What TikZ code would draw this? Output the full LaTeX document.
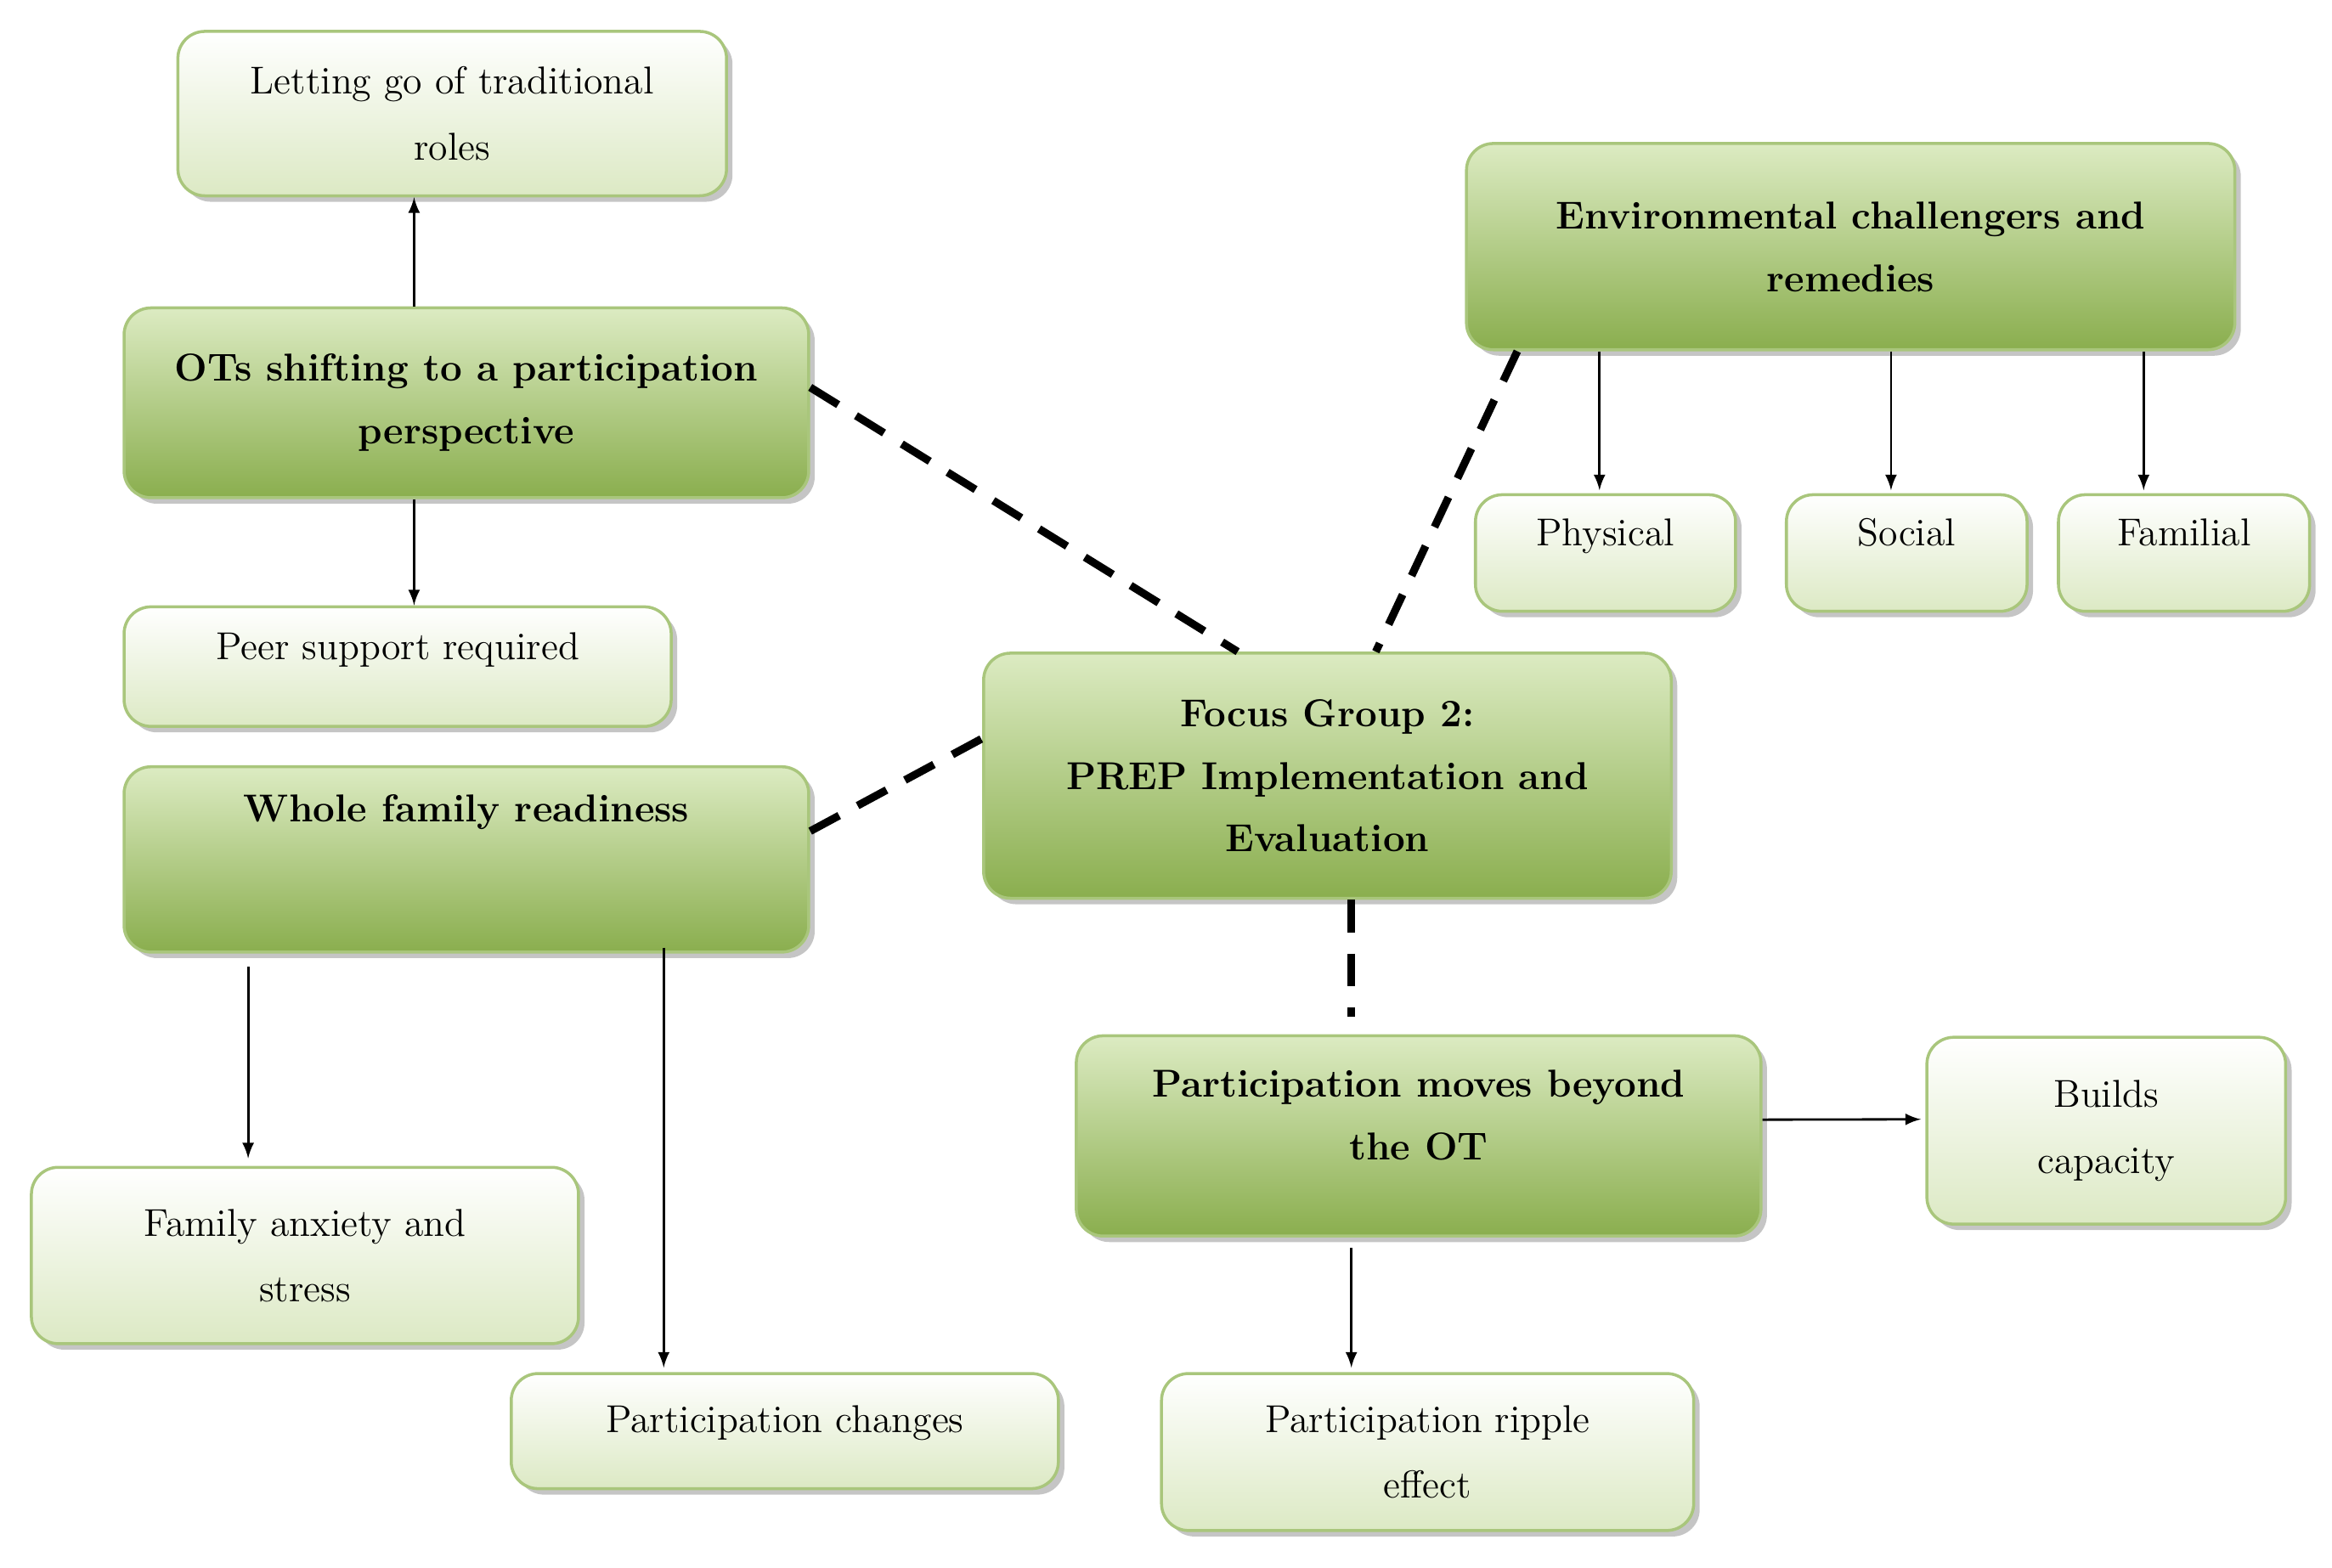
\documentclass[tikz,border=0pt]{standalone}
\usetikzlibrary{shadows,calc}
\definecolor{dtop}{HTML}{DCEBC2}
\definecolor{dbot}{HTML}{8AAE4E}
\definecolor{ltop}{HTML}{FFFFFF}
\definecolor{lbot}{HTML}{DCE9C4}
\definecolor{bord}{HTML}{A9C67C}
\begin{document}
\begin{tikzpicture}[x=0.5pt,y=-0.5pt,
  box/.style={draw=bord,line width=1pt,rounded corners=9pt,anchor=north west,inner sep=0pt,
    drop shadow={shadow xshift=2pt,shadow yshift=-2pt,fill=black!45},font=\fontsize{13}{22}\selectfont,align=center},
  dark/.style={box,top color=dtop,bottom color=dbot,font=\fontsize{13}{21}\selectfont\bfseries},
  light/.style={box,top color=ltop,bottom color=lbot},
  arr/.style={-latex,line width=0.8pt},
  dashlink/.style={line width=2.6pt,dash pattern=on 11pt off 7pt}]
\useasboundingbox (0,0) rectangle (1560,1049);
% boxes
\node[light,minimum width=183.5pt,minimum height=55pt] (let) at (118,20) {Letting go of traditional\\roles};
\node[dark,minimum width=229pt,minimum height=63.5pt] (ots) at (82,205) {OTs shifting to a participation\\perspective};
\node[light,minimum width=183pt,minimum height=40pt,text depth=14pt] (peer) at (82,405) {Peer support required};
\node[dark,minimum width=229pt,minimum height=62pt,text depth=34pt] (whole) at (82,512) {Whole family readiness};
\node[light,minimum width=183pt,minimum height=59pt] (anx) at (20,780) {Family anxiety and\\stress};
\node[light,minimum width=183pt,minimum height=38.5pt,text depth=8pt] (chg) at (341,918) {Participation changes};
\node[dark,minimum width=230pt,minimum height=82pt] (fg) at (657,436) {Focus Group 2:\\PREP Implementation and\\Evaluation};
\node[dark,minimum width=257pt,minimum height=69pt] (env) at (980,95) {Environmental challengers and\\remedies};
\node[light,minimum width=87pt,minimum height=39pt,text depth=14pt] (phy) at (986,330) {Physical};
\node[light,minimum width=80.5pt,minimum height=39pt,text depth=14pt] (soc) at (1194,330) {Social};
\node[light,minimum width=84pt,minimum height=39pt,text depth=14pt] (fam) at (1376,330) {Familial};
\node[dark,minimum width=229pt,minimum height=67pt,text depth=14pt] (mov) at (719,692) {Participation moves beyond\\the OT};
\node[light,minimum width=120pt,minimum height=62.5pt] (bld) at (1288,693) {Builds\\capacity};
\node[light,minimum width=178pt,minimum height=52.5pt] (rip) at (776,918) {Participation ripple\\effect};
% dashed links
\draw[dashlink] ($(ots.north east)!0.42!(ots.south east)$) -- ($(fg.north west)!0.37!(fg.north east)$);
\draw[dashlink] ($(env.south west)+(35,0)$) -- ($(fg.north west)!0.57!(fg.north east)$);
\draw[dashlink] ($(whole.north east)!0.35!(whole.south east)$) -- ($(fg.north west)!0.35!(fg.south west)$);
\draw[dashlink] ($(fg.south west)+(247,0)$) -- ($(mov.north west)+(185,-12)$);
% arrows
\draw[arr] ($(ots.north west)+(195,0)$) -- ($(let.south west)+(159,0)$);
\draw[arr] ($(ots.south west)+(195,0)$) -- ($(peer.north west)+(195,0)$);
\draw[arr] ($(whole.south west)+(84,9)$) -- ($(anx.north west)+(146,-5)$);
\draw[arr] ($(whole.south west)+(362,-4)$) -- ($(chg.north west)+(103,-3)$);
\draw[arr] ($(env.south west)+(90,0)$) -- ($(phy.north west)+(84,-2)$);
\draw[arr] ($(env.south west)+(285,0)$) -- ($(soc.north west)+(71,-2)$);
\draw[arr] ($(env.south west)+(454,0)$) -- ($(fam.north west)+(58,-2)$);
\draw[arr] ($(mov.north east)!0.42!(mov.south east)$) -- ($(bld.north west)!0.44!(bld.south west)+(-3,0)$);
\draw[arr] ($(mov.south west)+(185,7)$) -- ($(rip.north west)+(128,-3)$);
\end{tikzpicture}
\end{document}
